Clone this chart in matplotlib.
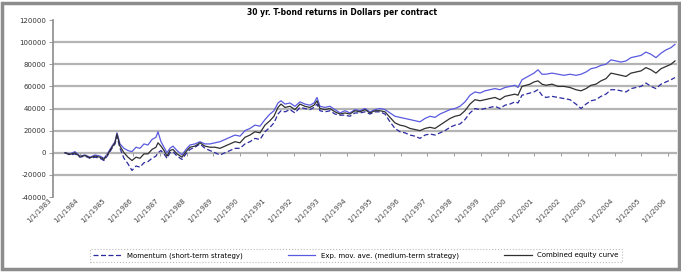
import numpy as np
import matplotlib.pyplot as plt
from matplotlib.patches import Rectangle
from matplotlib.transforms import ScaledTranslation

# sample index (time order) and equity in dollars per contract
obs = [0, 5, 10, 15, 20, 25, 30, 35, 39, 43, 47, 50, 52, 55, 59, 63, 67, 71, 75, 79,
       83, 87, 91, 93, 96, 99, 102, 105, 108, 112, 117, 121, 125, 130, 135, 140, 145, 150, 155, 160,
       165, 170, 175, 180, 185, 190, 195, 200, 205, 209, 213, 216, 220, 225, 230, 235, 240, 245, 249, 252,
       255, 260, 265, 270, 275, 280, 285, 290, 295, 300, 305, 310, 315, 320, 325, 330, 335, 340, 345, 350,
       355, 360, 365, 370, 375, 380, 385, 390, 395, 400, 405, 410, 415, 420, 425, 430, 435, 440, 445, 450,
       453, 457, 461, 465, 469, 473, 477, 481, 487, 493, 499, 505, 511, 516, 521, 526, 531, 536, 541, 546,
       551, 556, 561, 566, 571, 576, 581, 586, 591, 596, 601, 606, 610]

ema = [0, -1000, 1000, -3000, -2000, -4000, -2000, -3000, -5000, 0, 6000, 10000, 18000, 8000, 4000, 2000, 1000, 5000, 4000, 8000,
       7000, 12000, 14000, 19000, 10000, 5000, 0, 4000, 6000, 2000, -2000, 3000, 7000, 8000, 10000, 8000, 8000, 9000, 10000, 12000,
       14000, 16000, 15000, 20000, 22000, 25000, 24000, 30000, 35000, 38000, 45000, 47000, 44000, 45000, 42000, 46000, 44000, 43000, 45000, 50000,
       42000, 41000, 42000, 39000, 36000, 38000, 36000, 39000, 38000, 40000, 37000, 39000, 40000, 39000, 36000, 33000, 32000, 31000, 30000, 29000,
       28000, 31000, 33000, 32000, 35000, 37000, 39000, 40000, 42000, 46000, 52000, 55000, 54000, 56000, 57000, 58000, 57000, 59000, 60000, 61000,
       59000, 66000, 68000, 70000, 72000, 75000, 71000, 71000, 72000, 71000, 70000, 71000, 70000, 71000, 73000, 76000, 77000, 79000, 80000, 84000,
       83000, 82000, 83000, 86000, 87000, 88000, 91000, 89000, 86000, 90000, 93000, 95000, 98000]

combined = [0, -1500, 0, -3500, -2500, -4500, -3000, -4000, -6000, -1000, 5000, 9000, 17000, 6000, 0, -4000, -7000, -4000, -5000, -1000,
            -1000, 3000, 5000, 9000, 6000, 2000, -3000, 2000, 3000, -1000, -4000, 1000, 5000, 6000, 9000, 6000, 5000, 5000, 4000, 6000,
            8000, 10000, 9000, 14000, 16000, 19000, 18000, 25000, 29000, 33000, 41000, 44000, 41000, 42000, 39000, 44000, 42000, 41000, 43000, 47000,
            40000, 39000, 40000, 37000, 35000, 36000, 35000, 38000, 37000, 39000, 36000, 38000, 38000, 37000, 32000, 27000, 25000, 24000, 22000, 21000,
            20000, 22000, 23000, 22000, 25000, 28000, 31000, 33000, 34000, 38000, 44000, 48000, 47000, 48000, 49000, 50000, 48000, 51000, 52000, 53000,
            52000, 60000, 61000, 62000, 64000, 65000, 62000, 61000, 62000, 60000, 60000, 59000, 57000, 56000, 58000, 61000, 62000, 65000, 67000, 72000,
            71000, 70000, 69000, 72000, 73000, 74000, 77000, 75000, 72000, 76000, 78000, 80000, 83000]

momentum = [0, -2000, -1000, -4000, -3000, -5000, -4000, -5000, -7000, -2000, 4000, 8000, 15000, 4000, -5000, -10000, -16000, -12000, -13000, -9000,
            -8000, -5000, -3000, 0, 2000, -1000, -5000, 0, 1000, -3000, -6000, -1000, 3000, 5000, 8000, 4000, 2000, 0, -2000, 0,
            2000, 4000, 4000, 8000, 10000, 13000, 12000, 19000, 23000, 27000, 35000, 38000, 37000, 39000, 36000, 41000, 40000, 39000, 41000, 44000,
            38000, 37000, 38000, 35000, 34000, 34000, 33000, 36000, 36000, 37000, 35000, 37000, 37000, 35000, 28000, 22000, 19000, 18000, 16000, 15000,
            13000, 16000, 17000, 16000, 18000, 20000, 23000, 25000, 26000, 30000, 36000, 40000, 39000, 40000, 41000, 42000, 40000, 43000, 44000, 46000,
            45000, 52000, 53000, 54000, 55000, 57000, 52000, 50000, 51000, 50000, 49000, 48000, 44000, 40000, 44000, 47000, 48000, 51000, 53000, 57000,
            57000, 56000, 55000, 58000, 59000, 60000, 63000, 60000, 58000, 62000, 64000, 66000, 68000]

years = list(range(1983, 2007))
date_labels = [f"1/1/{y}" for y in years]
y_ticks = [-40000, -20000, 0, 20000, 40000, 60000, 80000, 100000, 120000]
grid_vals = [-20000, 0, 20000, 40000, 60000, 80000, 100000]

fig = plt.figure(figsize=(6.81, 2.72), dpi=100)
fig.patches.append(Rectangle((0.003, 0.01), 0.994, 0.98, transform=fig.transFigure,
                             fill=False, edgecolor="#8c8c8c", linewidth=2.5))
ax = fig.add_axes([0.0778, 0.2757, 0.9163, 0.6507])

for g in grid_vals:
    ax.axhline(g, color="#b4b4b4", linewidth=1.6, zorder=0)

l1, = ax.plot(obs, momentum, color="#2a2aa0", linewidth=0.9, linestyle=(0, (4, 2)),
              label="Momentum (short-term strategy)")
l2, = ax.plot(obs, ema, color="#5a5ae0", linewidth=0.9,
              label="Exp. mov. ave. (medium-term strategy)")
l3, = ax.plot(obs, combined, color="#303030", linewidth=0.9,
              label="Combined equity curve")

tick_pos = -12 + 26.74 * np.arange(len(years))
ax.vlines(tick_pos, -2500, 0, color="#8c8c8c", linewidth=0.6)

ax.set_xlim(-12, 612)
ax.set_ylim(-40000, 120000)
ax.set_yticks(y_ticks)
ax.set_yticklabels([str(v) for v in y_ticks], fontsize=5, color="#333333")
ax.set_xticks(tick_pos)
ax.set_xticklabels(date_labels, rotation=45, ha="right", fontsize=5, color="#444444")
off = ScaledTranslation(-6 / 100, -9 / 100, fig.dpi_scale_trans)
for lab in ax.get_xticklabels():
    lab.set_transform(lab.get_transform() + off)
ax.tick_params(axis="x", length=0, pad=0)
ax.tick_params(axis="y", length=3, width=0.6, color="#8c8c8c", pad=2)
for s in ["top", "right", "bottom"]:
    ax.spines[s].set_visible(False)
ax.spines["left"].set_color("#8c8c8c")
ax.spines["left"].set_linewidth(1.2)

fig.text(0.502, 0.955, "30 yr. T-bond returns in Dollars per contract",
         ha="center", va="center", fontsize=5.5, fontweight="bold")

leg = fig.legend(handles=[l1, l2, l3], loc="center", bbox_to_anchor=(0.523, 0.06),
                 ncol=3, fontsize=5, frameon=True, fancybox=False,
                 handlelength=4, columnspacing=6.5, borderpad=0.5, borderaxespad=0)
leg.get_frame().set_edgecolor("#aaaaaa")
leg.get_frame().set_linestyle(":")
leg.get_frame().set_linewidth(0.8)

fig.savefig("out.png", dpi=100)
